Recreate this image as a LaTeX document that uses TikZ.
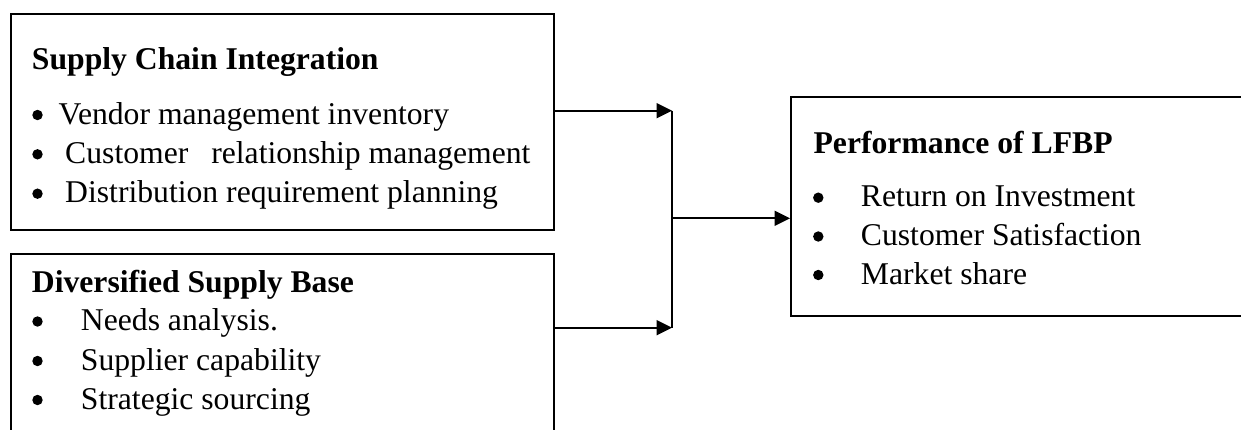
\documentclass[tikz,border=0pt]{standalone}
\usepackage{fontspec}
\setmainfont{Liberation Serif}
\usetikzlibrary{arrows.meta}

\begin{document}
\begin{tikzpicture}[>={Triangle[length=7.4pt,width=7.2pt]},line width=0.9pt,x=0.48pt,y=-0.48pt,font=\fontsize{15.2pt}{18pt}\selectfont,
  box/.style={draw,inner sep=0pt,anchor=north west},
  txt/.style={anchor=base west,inner sep=0pt},
  dot/.style={circle,fill,draw=none,inner sep=0pt,minimum size=5pt}]

\useasboundingbox (0,0) rectangle (1241,429);

% the three boxes
\node[box,minimum width=260.6pt,minimum height=103.7pt] (sci) at (10,13) {};
\node[box,minimum width=260.6pt,minimum height=110pt] (dsb) at (10,253) {};
\node[box,minimum width=250pt,minimum height=105.1pt] (perf) at (790,96) {};

% Supply Chain Integration
\node[txt] (scititle) at (31,69.3) {\textbf{Supply Chain Integration}};
\foreach \y/\x/\t [count=\i] in {124/57.7/Vendor management inventory,
  163.3/64.3/Customer\hspace{11pt}relationship management,
  202.7/64.3/Distribution requirement planning} {
  \node[dot] (scibul\i) at (37.5,\y-9) {};
  \node[txt] (sciitem\i) at (\x,\y) {\t};
}

% Diversified Supply Base
\node[txt] (dsbtitle) at (31,292.7) {\textbf{Diversified Supply Base}};
\foreach \y/\t [count=\i] in {330.5/Needs analysis., 370/Supplier capability, 409/Strategic sourcing} {
  \node[dot] (dsbbul\i) at (37.5,\y-9) {};
  \node[txt] (dsbitem\i) at (80,\y) {\t};
}

% Performance of LFBP
\node[txt] (perftitle) at (812.7,153.3) {\textbf{Performance of LFBP}};
\foreach \y/\t [count=\i] in {206.7/Return on Investment, 245.5/Customer Satisfaction, 284/Market share} {
  \node[dot] (perfbul\i) at (818.3,\y-9) {};
  \node[txt] (perfitem\i) at (860,\y) {\t};
}

% connectors
\coordinate (upin) at (672,110.7);
\coordinate (lowin) at (672,327.7);
\coordinate (join) at (672,218.3);
\draw[->] (sci.east |- upin) -- (upin);
\draw[->] (dsb.east |- lowin) -- (lowin);
\draw (upin) -- (lowin);
\draw[->] (join) -- (join -| perf.west);

\end{tikzpicture}
\end{document}
